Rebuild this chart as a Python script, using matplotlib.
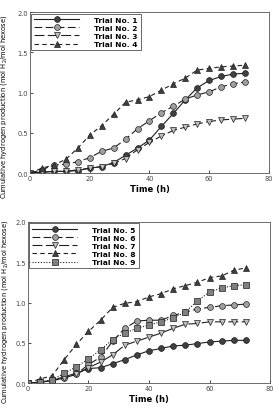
import numpy as np
import matplotlib
matplotlib.use('Agg')
import matplotlib.pyplot as plt

##############################################################################

t = [0, 4, 8, 12, 16, 20, 24, 28, 32, 36, 40, 44, 48, 52, 56, 60, 64, 68, 72]

trial1 = [0, 0.01, 0.02, 0.02, 0.03, 0.06, 0.08, 0.13, 0.22, 0.31, 0.41, 0.58, 0.74, 0.91, 1.06, 1.15, 1.20, 1.23, 1.24]
trial2 = [0, 0.04, 0.10, 0.11, 0.14, 0.19, 0.27, 0.31, 0.42, 0.55, 0.65, 0.75, 0.83, 0.92, 0.97, 1.01, 1.07, 1.11, 1.13]
trial3 = [0, 0.01, 0.02, 0.02, 0.04, 0.06, 0.08, 0.12, 0.18, 0.29, 0.38, 0.46, 0.53, 0.57, 0.61, 0.64, 0.66, 0.67, 0.68]
trial4 = [0, 0.06, 0.10, 0.17, 0.31, 0.47, 0.59, 0.73, 0.88, 0.91, 0.95, 1.03, 1.11, 1.18, 1.28, 1.30, 1.32, 1.33, 1.34]

trial5 = [0, 0.01, 0.03, 0.08, 0.12, 0.18, 0.19, 0.24, 0.29, 0.35, 0.40, 0.43, 0.46, 0.47, 0.49, 0.51, 0.52, 0.53, 0.53]
trial6 = [0, 0.01, 0.03, 0.06, 0.11, 0.23, 0.32, 0.52, 0.68, 0.77, 0.78, 0.78, 0.84, 0.88, 0.92, 0.94, 0.96, 0.97, 0.98]
trial7 = [0, 0.01, 0.03, 0.06, 0.11, 0.19, 0.26, 0.35, 0.47, 0.52, 0.57, 0.62, 0.68, 0.73, 0.74, 0.76, 0.76, 0.76, 0.76]
trial8 = [0, 0.05, 0.09, 0.29, 0.48, 0.64, 0.78, 0.94, 0.99, 1.01, 1.07, 1.11, 1.17, 1.21, 1.25, 1.31, 1.33, 1.40, 1.43]
trial9 = [0, 0.01, 0.04, 0.12, 0.20, 0.30, 0.41, 0.54, 0.62, 0.68, 0.72, 0.76, 0.81, 0.88, 1.02, 1.13, 1.18, 1.21, 1.22]

top_labels = ['Trial No. 1', 'Trial No. 2', 'Trial No. 3', 'Trial No. 4']
bot_labels = ['Trial No. 5', 'Trial No. 6', 'Trial No. 7', 'Trial No. 8', 'Trial No. 9']

##############################################################################

# line style per trial position: (linestyle, marker, face color)
styles = [
    ('-', 'o', '#404040'),
    ((0, (7, 3)), 'o', '#a0a0a0'),
    ((0, (9, 3)), 'v', '#c0c0c0'),
    ((0, (4, 3)), '^', '#404040'),
    ((0, (1, 1.5)), 's', '#808080'),
]

def panel(ax, series, labels, ylab_x, ylab_y):
    for i, (y, lab) in enumerate(zip(series, labels)):
        ls, mk, fc = styles[i]
        ax.plot(t, y, linestyle=ls, color='#202020', linewidth=0.8,
                marker=mk, markersize=4.2, markerfacecolor=fc,
                markeredgecolor='#202020', markeredgewidth=0.5, label=lab)
    ax.set_xlim(0, 80)
    ax.set_ylim(0, 2.0)
    ax.set_xticks([0, 20, 40, 60, 80])
    ax.set_yticks([0, 0.5, 1.0, 1.5, 2.0])
    ax.set_yticklabels(['0.0', '0.5', '1.0', '1.5', '2.0'])
    ax.tick_params(labelsize=4.8, length=2, width=0.5, direction='in',
                   labelcolor='#444444', pad=1.5)
    for s in ax.spines.values():
        s.set_linewidth(0.6)
        s.set_color('#555555')
    ax.set_xlabel('Time (h)', fontsize=6, fontweight='bold', labelpad=2)
    ax.set_ylabel('Cumulative hydrogen production (mol H$_2$/mol hexose)',
                  fontsize=4.9)
    ax.yaxis.set_label_coords(ylab_x, ylab_y)
    leg = ax.legend(loc='upper left', handlelength=6, markerscale=1.0,
                    frameon=True, fancybox=False, edgecolor='#222222',
                    borderpad=0.4, labelspacing=0.25, handletextpad=2.0,
                    borderaxespad=0.2, prop={'weight': 'bold', 'size': 5.4})
    leg.get_frame().set_linewidth(0.6)

fig = plt.figure(figsize=(2.79, 4.10), dpi=100)
ax1 = fig.add_axes([0.1075, 0.5756, 0.8565, 0.3924])
ax2 = fig.add_axes([0.100, 0.0634, 0.868, 0.3927])

panel(ax1, [trial1, trial2, trial3, trial4], top_labels, -0.088, 0.42)
panel(ax2, [trial5, trial6, trial7, trial8, trial9], bot_labels, -0.075, 0.45)

fig.savefig('out.png', dpi=100)
